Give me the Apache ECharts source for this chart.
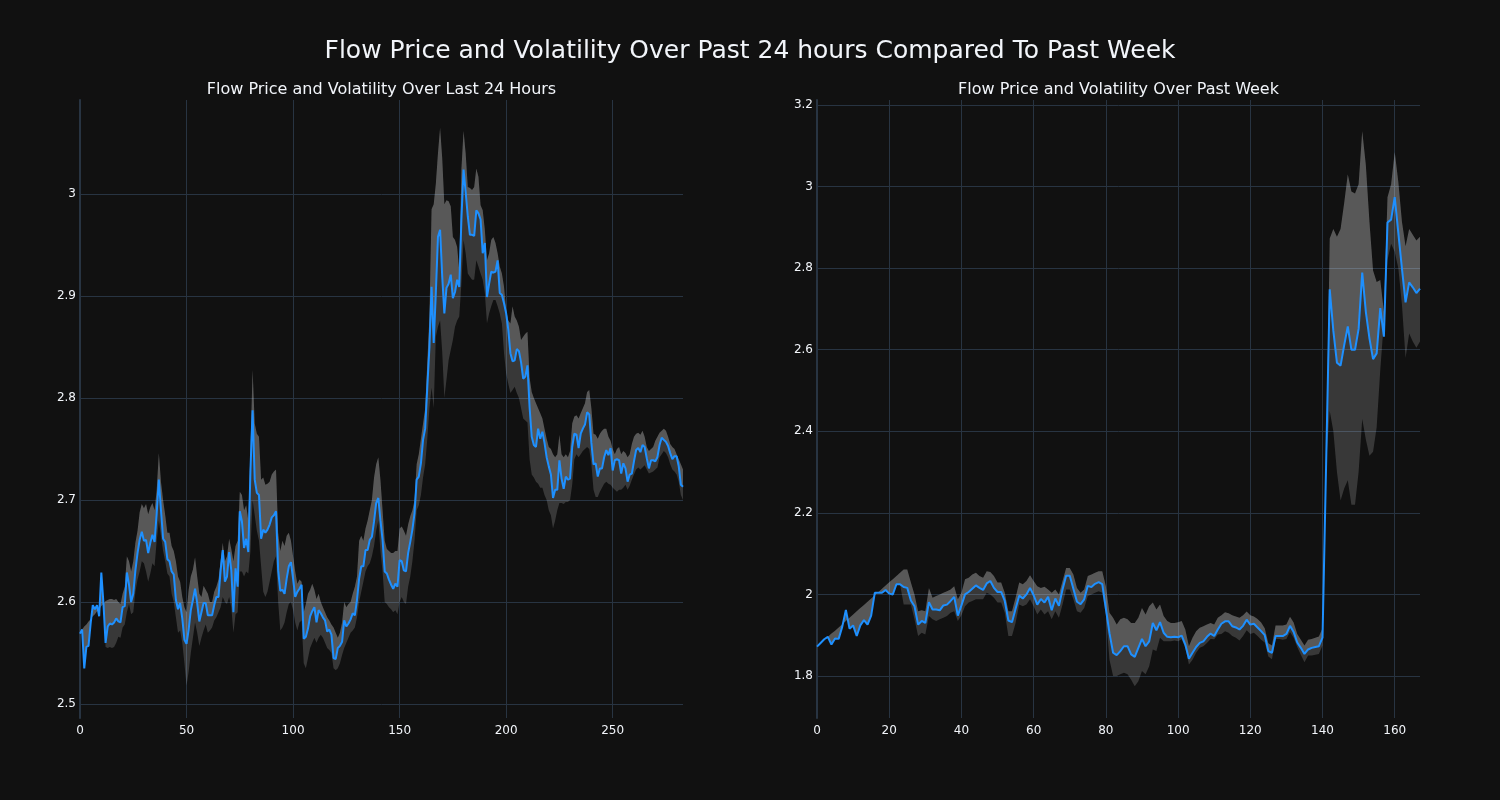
<!DOCTYPE html>
<html>
<head>
<meta charset="utf-8">
<script src="https://cdn.jsdelivr.net/npm/echarts@6/dist/echarts.min.js"></script>
<style>
html,body{margin:0;padding:0;background:#111111;}
#chart{width:1500px;height:800px;}
</style>
</head>
<body>
<div id="chart"></div>
<script>
// ---------- DATA ----------
const mainTitle = 'Flow Price and Volatility Over Past 24 hours Compared To Past Week';
const dayTitle = 'Flow Price and Volatility Over Last 24 Hours';
const weekTitle = 'Flow Price and Volatility Over Past Week';

// Last 24 hours (5-minute steps, index 0..283)
const dayPrice = [
2.569,2.573,2.535,2.556,2.557,2.579,2.597,2.593,2.597,2.586,
2.629,2.599,2.560,2.576,2.579,2.578,2.580,2.584,2.581,2.580,
2.595,2.596,2.629,2.617,2.600,2.608,2.631,2.648,2.661,2.669,
2.660,2.661,2.648,2.658,2.666,2.659,2.687,2.720,2.690,2.662,
2.659,2.642,2.640,2.630,2.627,2.602,2.593,2.599,2.584,2.563,
2.559,2.573,2.592,2.602,2.613,2.599,2.581,2.590,2.599,2.599,
2.587,2.587,2.587,2.597,2.605,2.605,2.631,2.651,2.620,2.625,
2.649,2.631,2.590,2.633,2.615,2.689,2.679,2.653,2.662,2.649,
2.729,2.788,2.720,2.707,2.705,2.662,2.671,2.668,2.671,2.676,
2.683,2.685,2.689,2.631,2.611,2.612,2.608,2.623,2.635,2.639,
2.623,2.605,2.610,2.613,2.617,2.564,2.566,2.574,2.586,2.591,
2.595,2.580,2.592,2.589,2.585,2.582,2.571,2.573,2.568,2.545,
2.544,2.555,2.557,2.561,2.582,2.576,2.579,2.583,2.589,2.587,
2.602,2.623,2.635,2.635,2.651,2.651,2.661,2.664,2.679,2.697,
2.702,2.680,2.661,2.630,2.628,2.622,2.617,2.613,2.618,2.615,
2.641,2.640,2.631,2.630,2.648,2.659,2.671,2.687,2.720,2.723,
2.736,2.759,2.770,2.811,2.850,2.909,2.854,2.903,2.958,2.965,
2.919,2.883,2.908,2.912,2.921,2.898,2.904,2.916,2.909,2.975,
3.024,3.002,2.978,2.960,2.960,2.959,2.984,2.981,2.975,2.942,
2.952,2.899,2.912,2.924,2.923,2.924,2.935,2.903,2.901,2.893,
2.883,2.867,2.844,2.836,2.837,2.848,2.846,2.835,2.819,2.821,
2.832,2.791,2.762,2.754,2.752,2.770,2.760,2.767,2.756,2.742,
2.733,2.725,2.702,2.710,2.710,2.739,2.721,2.711,2.723,2.720,
2.721,2.752,2.765,2.764,2.751,2.765,2.770,2.774,2.786,2.784,
2.756,2.735,2.736,2.723,2.731,2.731,2.742,2.749,2.744,2.751,
2.729,2.739,2.740,2.739,2.726,2.736,2.731,2.718,2.725,2.726,
2.738,2.749,2.751,2.747,2.754,2.752,2.741,2.731,2.739,2.739,
2.738,2.742,2.754,2.761,2.759,2.757,2.753,2.746,2.740,2.743,
2.743,2.733,2.715,2.713
];
const dayUpper = [
2.570,2.573,2.576,2.578,2.581,2.583,2.586,2.588,2.591,2.593,
2.596,2.598,2.601,2.602,2.603,2.603,2.602,2.603,2.600,2.598,
2.608,2.615,2.645,2.640,2.630,2.640,2.658,2.670,2.688,2.696,
2.692,2.696,2.686,2.693,2.697,2.690,2.710,2.746,2.718,2.700,
2.685,2.668,2.668,2.655,2.650,2.640,2.625,2.620,2.605,2.595,
2.590,2.612,2.625,2.632,2.644,2.625,2.608,2.605,2.616,2.612,
2.608,2.600,2.600,2.610,2.615,2.622,2.640,2.658,2.640,2.645,
2.662,2.652,2.640,2.655,2.660,2.708,2.705,2.690,2.695,2.680,
2.750,2.828,2.775,2.765,2.762,2.720,2.722,2.715,2.716,2.718,
2.725,2.728,2.730,2.668,2.650,2.660,2.655,2.665,2.668,2.660,
2.645,2.630,2.618,2.622,2.620,2.590,2.598,2.608,2.612,2.618,
2.612,2.603,2.608,2.600,2.595,2.590,2.585,2.582,2.578,2.575,
2.570,2.565,2.570,2.580,2.600,2.595,2.598,2.600,2.608,2.615,
2.625,2.660,2.665,2.660,2.672,2.680,2.690,2.700,2.722,2.735,
2.742,2.720,2.690,2.660,2.652,2.650,2.648,2.648,2.650,2.650,
2.672,2.674,2.670,2.665,2.676,2.684,2.690,2.700,2.735,2.745,
2.760,2.775,2.790,2.835,2.880,2.985,2.990,3.010,3.040,3.065,
3.035,2.990,2.994,2.993,2.988,2.958,2.955,2.948,2.925,3.024,
3.062,3.040,3.007,3.006,3.004,3.007,3.025,3.017,2.989,2.984,
2.965,2.935,2.942,2.955,2.958,2.952,2.942,2.929,2.922,2.909,
2.886,2.876,2.873,2.890,2.880,2.876,2.870,2.857,2.860,2.863,
2.865,2.820,2.806,2.800,2.795,2.790,2.785,2.780,2.770,2.760,
2.752,2.750,2.745,2.742,2.745,2.764,2.745,2.742,2.745,2.742,
2.748,2.775,2.782,2.783,2.780,2.785,2.790,2.795,2.806,2.808,
2.790,2.765,2.764,2.760,2.765,2.768,2.770,2.770,2.762,2.758,
2.750,2.745,2.750,2.752,2.745,2.748,2.746,2.742,2.745,2.755,
2.762,2.765,2.766,2.764,2.768,2.762,2.752,2.748,2.750,2.752,
2.758,2.762,2.766,2.768,2.770,2.768,2.762,2.755,2.752,2.750,
2.745,2.740,2.735,2.730
];
const dayLower = [
2.569,2.573,2.535,2.556,2.557,2.579,2.597,2.593,2.597,2.586,
2.629,2.599,2.556,2.555,2.556,2.555,2.556,2.560,2.566,2.565,
2.575,2.578,2.590,2.598,2.588,2.590,2.610,2.622,2.630,2.640,
2.638,2.630,2.620,2.628,2.638,2.635,2.660,2.680,2.665,2.650,
2.640,2.628,2.625,2.608,2.600,2.585,2.570,2.572,2.560,2.540,
2.518,2.532,2.550,2.565,2.580,2.570,2.557,2.565,2.572,2.578,
2.570,2.572,2.575,2.582,2.585,2.590,2.595,2.605,2.600,2.598,
2.605,2.595,2.570,2.588,2.590,2.630,2.630,2.625,2.630,2.628,
2.650,2.700,2.685,2.670,2.660,2.635,2.610,2.605,2.610,2.620,
2.630,2.640,2.645,2.600,2.572,2.575,2.580,2.590,2.598,2.600,
2.592,2.580,2.572,2.580,2.582,2.540,2.535,2.545,2.555,2.560,
2.565,2.560,2.565,2.568,2.565,2.560,2.555,2.553,2.550,2.535,
2.533,2.535,2.540,2.548,2.555,2.560,2.565,2.570,2.572,2.575,
2.585,2.600,2.610,2.620,2.630,2.635,2.638,2.645,2.655,2.670,
2.680,2.650,2.630,2.600,2.598,2.595,2.593,2.590,2.592,2.588,
2.600,2.605,2.600,2.598,2.615,2.625,2.640,2.660,2.690,2.695,
2.705,2.722,2.735,2.760,2.790,2.810,2.790,2.860,2.870,2.876,
2.845,2.800,2.818,2.837,2.847,2.857,2.870,2.876,2.880,2.912,
2.955,2.942,2.922,2.919,2.916,2.916,2.935,2.929,2.922,2.916,
2.903,2.873,2.883,2.890,2.896,2.896,2.890,2.883,2.873,2.844,
2.824,2.814,2.805,2.808,2.811,2.805,2.800,2.790,2.780,2.778,
2.776,2.740,2.725,2.722,2.718,2.716,2.712,2.712,2.705,2.700,
2.690,2.685,2.672,2.680,2.690,2.697,2.697,2.696,2.698,2.698,
2.700,2.715,2.740,2.745,2.742,2.745,2.748,2.750,2.752,2.750,
2.735,2.710,2.703,2.703,2.708,2.712,2.716,2.718,2.716,2.715,
2.712,2.710,2.708,2.710,2.710,2.712,2.715,2.710,2.714,2.720,
2.725,2.730,2.732,2.730,2.732,2.734,2.730,2.726,2.727,2.728,
2.730,2.732,2.742,2.745,2.748,2.746,2.742,2.735,2.730,2.728,
2.725,2.718,2.705,2.700
];

// Past week (hourly steps, index 0..167)
const weekPrice = [
1.872,1.881,1.890,1.896,1.877,1.892,1.891,1.921,1.962,1.916,
1.924,1.898,1.924,1.937,1.926,1.948,2.004,2.004,2.004,2.011,
2.002,2.000,2.025,2.025,2.018,2.016,1.985,1.971,1.926,1.935,
1.930,1.981,1.963,1.963,1.961,1.973,1.975,1.984,1.994,1.948,
1.973,2.000,2.006,2.014,2.022,2.016,2.011,2.027,2.033,2.016,
2.006,2.006,1.984,1.936,1.932,1.965,1.997,1.990,2.000,2.016,
1.998,1.975,1.989,1.980,1.994,1.961,1.990,1.972,2.012,2.046,
2.046,2.014,1.982,1.976,1.988,2.021,2.018,2.026,2.030,2.025,
1.965,1.905,1.857,1.851,1.861,1.873,1.873,1.853,1.847,1.869,
1.891,1.873,1.885,1.930,1.912,1.932,1.906,1.896,1.895,1.896,
1.895,1.899,1.877,1.842,1.857,1.871,1.881,1.885,1.896,1.904,
1.898,1.914,1.928,1.934,1.934,1.922,1.919,1.914,1.923,1.938,
1.926,1.928,1.919,1.910,1.900,1.861,1.857,1.898,1.898,1.898,
1.903,1.923,1.908,1.882,1.869,1.854,1.865,1.869,1.871,1.873,
1.894,2.320,2.748,2.646,2.568,2.561,2.611,2.657,2.600,2.600,
2.651,2.789,2.693,2.628,2.577,2.591,2.702,2.632,2.912,2.919,
2.974,2.886,2.799,2.716,2.765,2.753,2.739,2.750
];
const weekUpper = [
1.872,1.880,1.888,1.896,1.904,1.911,1.919,1.927,1.935,1.943,
1.951,1.959,1.967,1.974,1.982,1.990,1.998,2.006,2.014,2.022,
2.030,2.037,2.045,2.053,2.061,2.061,2.029,2.000,1.959,1.961,
1.959,2.016,1.992,1.996,2.000,2.004,2.008,2.012,2.020,1.988,
2.004,2.037,2.041,2.049,2.053,2.045,2.041,2.057,2.055,2.045,
2.029,2.029,2.004,1.959,1.959,1.992,2.029,2.025,2.033,2.047,
2.033,2.020,2.016,2.019,2.012,2.004,2.012,2.000,2.033,2.065,
2.065,2.049,2.016,2.004,2.012,2.045,2.049,2.053,2.057,2.057,
2.020,1.955,1.943,1.926,1.939,1.943,1.939,1.930,1.930,1.943,
1.967,1.951,1.971,1.980,1.963,1.975,1.947,1.935,1.930,1.930,
1.932,1.935,1.914,1.873,1.894,1.910,1.918,1.922,1.926,1.930,
1.926,1.943,1.949,1.956,1.954,1.949,1.946,1.943,1.949,1.958,
1.949,1.946,1.940,1.931,1.917,1.880,1.875,1.924,1.924,1.924,
1.926,1.945,1.931,1.903,1.889,1.875,1.889,1.891,1.894,1.897,
1.917,2.320,2.873,2.896,2.877,2.896,2.960,3.030,2.988,2.983,
3.006,3.136,3.053,2.914,2.794,2.766,2.771,2.693,2.974,3.006,
3.085,3.011,2.914,2.854,2.896,2.882,2.868,2.877
];
const weekLower = [
1.872,1.881,1.890,1.896,1.877,1.892,1.891,1.921,1.962,1.916,
1.924,1.898,1.924,1.937,1.926,1.948,2.004,2.004,2.004,2.011,
2.002,2.000,2.025,2.025,1.975,1.975,1.975,1.939,1.898,1.906,
1.902,1.947,1.939,1.935,1.939,1.943,1.947,1.955,1.959,1.935,
1.949,1.971,1.980,1.984,1.988,1.988,1.988,2.004,2.000,1.992,
1.980,1.980,1.955,1.898,1.898,1.930,1.975,1.971,1.975,1.988,
1.971,1.951,1.963,1.951,1.959,1.939,1.959,1.943,1.975,2.012,
2.012,1.988,1.959,1.955,1.967,1.996,2.000,2.004,2.008,2.004,
1.950,1.840,1.800,1.800,1.804,1.808,1.804,1.791,1.775,1.787,
1.812,1.804,1.824,1.865,1.861,1.894,1.885,1.885,1.885,1.887,
1.885,1.890,1.869,1.828,1.840,1.857,1.869,1.873,1.881,1.891,
1.890,1.902,1.903,1.910,1.906,1.898,1.894,1.887,1.898,1.912,
1.903,1.906,1.898,1.889,1.882,1.848,1.841,1.891,1.891,1.889,
1.891,1.908,1.894,1.871,1.852,1.834,1.850,1.850,1.852,1.854,
1.875,2.320,2.450,2.400,2.300,2.230,2.260,2.280,2.220,2.220,
2.300,2.430,2.380,2.340,2.350,2.410,2.550,2.670,2.820,2.860,
2.840,2.800,2.710,2.580,2.640,2.620,2.605,2.620
];

// ---------- STYLE ----------
const BG = '#111111';
const GRID = '#283442';
const TEXT = '#f2f5fa';
const LINE = '#1E90FF';
const BAND_FILL = 'rgba(255,255,255,0.165)';
const FONT = 'DejaVu Sans';

function pairs(arr) { return arr.map((v, i) => [i, v]); }

// Two translucent fills, as in the reference: (price..upper) and (lower..upper);
// their overlap makes the upper half lighter than the lower half.
function bandSeries(k, price, upper, lower) {
  return {
    type: 'custom', xAxisIndex: k, yAxisIndex: k, silent: true, z: 1, clip: true,
    data: [[0, price[0]]],
    renderItem: function (params, api) {
      const up = upper.map((v, i) => api.coord([i, v]));
      const pr = price.map((v, i) => api.coord([i, v]));
      const lo = lower.map((v, i) => api.coord([i, v]));
      const polyA = up.concat(pr.slice().reverse());
      const polyB = lo.concat(up.slice().reverse());
      return {
        type: 'group',
        children: [
          { type: 'polygon', shape: { points: polyA }, style: { fill: BAND_FILL, stroke: null } },
          { type: 'polygon', shape: { points: polyB }, style: { fill: BAND_FILL, stroke: null } }
        ]
      };
    }
  };
}
function priceSeries(k, price) {
  return { type: 'line', xAxisIndex: k, yAxisIndex: k, symbol: 'none', showSymbol: false, z: 3,
    data: pairs(price), lineStyle: { color: LINE, width: 2 } };
}

function xAxis(k, max, interval) {
  return {
    type: 'value', gridIndex: k, min: 0, max: max, interval: interval,
    axisLine: { show: false }, axisTick: { show: false },
    axisLabel: { color: TEXT, fontSize: 12, fontFamily: FONT, margin: 7, showMaxLabel: false },
    splitLine: { show: true, showMinLine: false, showMaxLine: false, lineStyle: { color: GRID, width: 1 } }
  };
}
function yAxis(k, min, max, splitNumber) {
  return {
    type: 'value', gridIndex: k, min: min, max: max, splitNumber: splitNumber, scale: true,
    axisLine: { show: true, onZero: false, lineStyle: { color: GRID, width: 2 } },
    axisTick: { show: false },
    axisLabel: { color: TEXT, fontSize: 12, fontFamily: FONT, margin: 4, showMinLabel: false, showMaxLabel: false },
    splitLine: { show: true, showMinLine: false, showMaxLine: false, lineStyle: { color: GRID, width: 1 } }
  };
}

const chart = echarts.init(document.getElementById('chart'), null, { renderer: 'canvas' });
chart.setOption({
  backgroundColor: BG,
  animation: false,
  title: [
    { text: mainTitle, left: 750, top: 51, textAlign: 'center', textVerticalAlign: 'middle', padding: 0,
      textStyle: { color: TEXT, fontSize: 25, fontWeight: 'normal', fontFamily: FONT } },
    { text: dayTitle, left: 381.5, top: 90, textAlign: 'center', textVerticalAlign: 'middle', padding: 0,
      textStyle: { color: TEXT, fontSize: 16, fontWeight: 'normal', fontFamily: FONT } },
    { text: weekTitle, left: 1118.5, top: 90, textAlign: 'center', textVerticalAlign: 'middle', padding: 0,
      textStyle: { color: TEXT, fontSize: 16, fontWeight: 'normal', fontFamily: FONT } }
  ],
  grid: [
    { left: 80, top: 100, width: 603, height: 618, containLabel: false },
    { left: 817, top: 100, width: 603, height: 618, containLabel: false }
  ],
  xAxis: [ xAxis(0, 283, 50), xAxis(1, 167, 20) ],
  yAxis: [ yAxis(0, 2.4863, 3.0922, 6), yAxis(1, 1.697, 3.2123, 8) ],
  series: [
    bandSeries(0, dayPrice, dayUpper, dayLower),
    priceSeries(0, dayPrice),
    bandSeries(1, weekPrice, weekUpper, weekLower),
    priceSeries(1, weekPrice)
  ]
});
</script>
</body>
</html>
